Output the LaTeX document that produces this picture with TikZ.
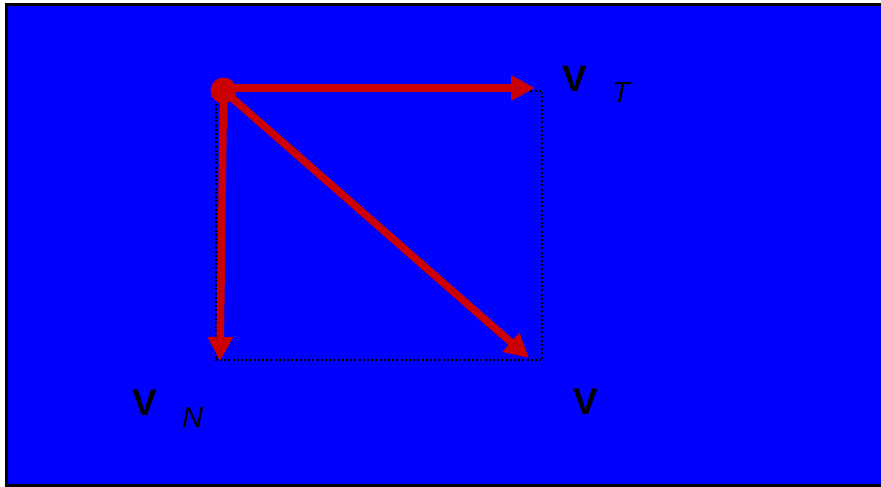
\documentclass[tikz,border=0pt]{standalone}
\usepackage{fontspec}
\setmainfont{Liberation Sans}
\usetikzlibrary{arrows.meta}
\definecolor{bgblue}{RGB}{0,0,255}
\definecolor{vecred}{RGB}{204,0,0}
\tikzset{
  vec/.style={draw=vecred, line width=7.5pt, -{Triangle[length=24pt,width=24pt]}},
  guide/.style={draw=black, line width=2pt, dash pattern=on 2pt off 2.2pt},
  bigv/.style={inner sep=0pt, font=\fontsize{37}{40}\selectfont\bfseries},
  sub/.style={inner sep=0pt, font=\fontsize{29}{32}\selectfont\itshape},
}
\begin{document}
\begin{tikzpicture}[x=1pt,y=-1pt]
\useasboundingbox (0,0) rectangle (881,487);
\fill[white] (0,0) rectangle (881,487);
\draw[fill=bgblue, line width=2.5pt] (6.5,4.5) rectangle (900,485.5);
% guide rectangle
\coordinate (gtl) at (216,91);
\coordinate (gbr) at (542,360);
\draw[guide] (gtl) rectangle (gbr);
% origin point
\node[circle, fill=vecred, inner sep=0pt, minimum size=26pt] (o) at (223.5,90.5) {};
\coordinate (tT) at (535,88);
\coordinate (tN) at (220,361);
\coordinate (tV) at (529,358);
\coordinate (oT) at (223.5,88);
\draw[vec] (oT) -- (tT);
\draw[vec] (o.center) -- (tN);
\draw[vec] (o.center) -- (tV);
% labels
\node[bigv] (lvt) at (574.5,78.5) {V};
\node[sub] (lt) at (621,92.5) {T};
\node[bigv] (lvn) at (144.5,402.5) {V};
\node[sub] (ln) at (192.5,417.5) {N};
\node[bigv] (lv) at (585.5,401.5) {V};
\end{tikzpicture}
\end{document}
